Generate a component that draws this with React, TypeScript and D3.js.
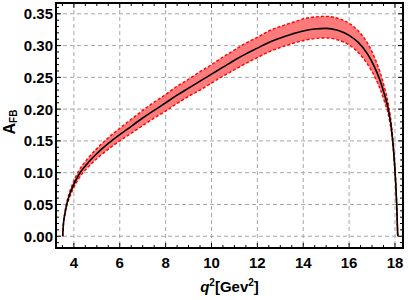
import React, { useEffect, useRef } from 'react';
import * as d3 from 'd3';

// q^2 grid (GeV^2) and the values
const qSq = [3.51, 3.55, 3.6, 3.68, 3.8, 3.95, 4.2, 4.6, 5.0, 5.5, 6.0, 6.5, 7.0, 7.5, 8.0, 8.5, 9.0, 9.5, 10.0, 10.5, 11.0, 11.5, 12.0, 12.5, 13.0, 13.5, 14.0, 14.5, 15.0, 15.5, 16.0, 16.4, 16.8, 17.1, 17.35, 17.55, 17.72, 17.85, 17.95, 18.03, 18.08, 18.12];
const afbCentral = [0, 0.022, 0.034, 0.049, 0.064, 0.078, 0.096, 0.115, 0.13, 0.146, 0.16, 0.173, 0.186, 0.198, 0.21, 0.222, 0.233, 0.244, 0.255, 0.266, 0.277, 0.287, 0.296, 0.305, 0.312, 0.318, 0.323, 0.326, 0.327, 0.324, 0.316, 0.305, 0.287, 0.267, 0.245, 0.222, 0.198, 0.168, 0.13, 0.085, 0.045, 0];
const afbUpper = [0, 0.023, 0.036, 0.052, 0.068, 0.083, 0.102, 0.122, 0.138, 0.155, 0.17, 0.184, 0.198, 0.211, 0.223, 0.236, 0.247, 0.259, 0.27, 0.282, 0.293, 0.304, 0.313, 0.323, 0.33, 0.336, 0.342, 0.345, 0.346, 0.343, 0.335, 0.323, 0.304, 0.282, 0.258, 0.233, 0.206, 0.174, 0.134, 0.087, 0.046, 0];
const afbLower = [0, 0.021, 0.032, 0.046, 0.06, 0.073, 0.09, 0.108, 0.122, 0.137, 0.15, 0.162, 0.174, 0.186, 0.197, 0.209, 0.22, 0.23, 0.241, 0.252, 0.262, 0.272, 0.281, 0.29, 0.297, 0.303, 0.308, 0.311, 0.312, 0.309, 0.301, 0.289, 0.271, 0.252, 0.232, 0.211, 0.19, 0.162, 0.126, 0.083, 0.044, 0];

const xTicks = [4, 6, 8, 10, 12, 14, 16, 18];
const yTicks = [0, 0.05, 0.1, 0.15, 0.2, 0.25, 0.3, 0.35];

const W = 409;
const H = 300;
const FONT = '"Liberation Sans", Arial, sans-serif';

const App: React.FC = () => {
  const svgRef = useRef<SVGSVGElement>(null);

  useEffect(() => {
    if (!svgRef.current) return;
    const svg = d3.select(svgRef.current);
    svg.selectAll('*').remove();

    const left = 56, right = 403, top = 3, bottom = 248;
    const x = d3.scaleLinear().domain([3.22, 18.35]).range([left, right]);
    const y = d3.scaleLinear().domain([-0.0185, 0.367]).range([bottom, top]);

    const clipId = 'plot-clip';
    svg.append('defs').append('clipPath').attr('id', clipId)
      .append('rect').attr('x', left).attr('y', top)
      .attr('width', right - left).attr('height', bottom - top);

    // grid
    const grid = svg.append('g');
    xTicks.forEach(t => {
      grid.append('line')
        .attr('x1', x(t)).attr('x2', x(t)).attr('y1', top).attr('y2', bottom)
        .attr('stroke', '#a6a6a6').attr('stroke-width', 1).attr('stroke-dasharray', '4,3');
    });
    yTicks.forEach(t => {
      grid.append('line')
        .attr('x1', left).attr('x2', right).attr('y1', y(t)).attr('y2', y(t))
        .attr('stroke', '#a6a6a6').attr('stroke-width', 1).attr('stroke-dasharray', '4,3');
    });

    const idx = d3.range(qSq.length);
    const plot = svg.append('g').attr('clip-path', `url(#${clipId})`);

    const band = d3.area<number>()
      .x(i => x(qSq[i]))
      .y0(i => y(afbLower[i]))
      .y1(i => y(afbUpper[i]))
      .curve(d3.curveMonotoneX);

    plot.append('path').attr('d', band(idx) ?? '')
      .attr('fill', '#ff7b7b').attr('stroke', 'none');

    const edge = (vals: number[]) => d3.line<number>()
      .x(i => x(qSq[i]))
      .y(i => y(vals[i]))
      .curve(d3.curveMonotoneX)(idx) ?? '';

    [afbUpper, afbLower].forEach(vals => {
      plot.append('path').attr('d', edge(vals))
        .attr('fill', 'none').attr('stroke', '#ff0000')
        .attr('stroke-width', 1.4).attr('stroke-dasharray', '3,2');
    });

    plot.append('path').attr('d', edge(afbCentral))
      .attr('fill', 'none').attr('stroke', '#000').attr('stroke-width', 1.6);

    // ticks, inward, on all sides
    const ticks = svg.append('g').attr('stroke', '#000').attr('stroke-width', 1);
    const xMinor = d3.range(3.5, 18.35, 0.5);
    xMinor.forEach(t => {
      const major = xTicks.includes(t);
      const len = major ? 5 : 3;
      ticks.append('line').attr('x1', x(t)).attr('x2', x(t)).attr('y1', bottom).attr('y2', bottom - len);
      ticks.append('line').attr('x1', x(t)).attr('x2', x(t)).attr('y1', top).attr('y2', top + len);
    });
    const yMinor = d3.range(-1, 37).map(v => v / 100);
    yMinor.forEach(t => {
      const major = yTicks.some(m => Math.abs(m - t) < 1e-9);
      const len = major ? 5 : 3;
      ticks.append('line').attr('x1', left).attr('x2', left + len).attr('y1', y(t)).attr('y2', y(t));
      ticks.append('line').attr('x1', right).attr('x2', right - len).attr('y1', y(t)).attr('y2', y(t));
    });

    // frame
    svg.append('rect')
      .attr('x', left).attr('y', top).attr('width', right - left).attr('height', bottom - top)
      .attr('fill', 'none').attr('stroke', '#000').attr('stroke-width', 2);

    // tick labels
    xTicks.forEach(t => {
      svg.append('text')
        .attr('x', x(t)).attr('y', 267.5)
        .attr('text-anchor', 'middle')
        .attr('font-family', FONT).attr('font-weight', 700).attr('font-size', 15)
        .text(String(t));
    });
    yTicks.forEach(t => {
      svg.append('text')
        .attr('x', 53).attr('y', y(t) + 5.5)
        .attr('text-anchor', 'end')
        .attr('font-family', FONT).attr('font-weight', 700).attr('font-size', 15)
        .text(t.toFixed(2));
    });

    // axis titles
    const xt = svg.append('text')
      .attr('x', (left + right) / 2).attr('y', 292)
      .attr('text-anchor', 'middle')
      .attr('font-family', FONT).attr('font-weight', 700).attr('font-size', 15);
    xt.append('tspan').attr('font-style', 'italic').text('q');
    xt.append('tspan').attr('font-size', 10).attr('dy', -6).text('2');
    xt.append('tspan').attr('dy', 6).text('[Gev');
    xt.append('tspan').attr('font-size', 10).attr('dy', -6).text('2');
    xt.append('tspan').attr('dy', 6).text(']');

    const yt = svg.append('text')
      .attr('transform', 'translate(15,122) rotate(-90)')
      .attr('text-anchor', 'middle')
      .attr('font-family', FONT).attr('font-weight', 700).attr('font-size', 16);
    yt.append('tspan').text('A');
    yt.append('tspan').attr('font-size', 10).attr('dy', 2).text('FB');
  }, []);

  return (
    <svg
      ref={svgRef}
      width={W}
      height={H}
      style={{ position: 'fixed', left: 0, top: 0, background: '#fff' }}
    />
  );
};

export default App;
